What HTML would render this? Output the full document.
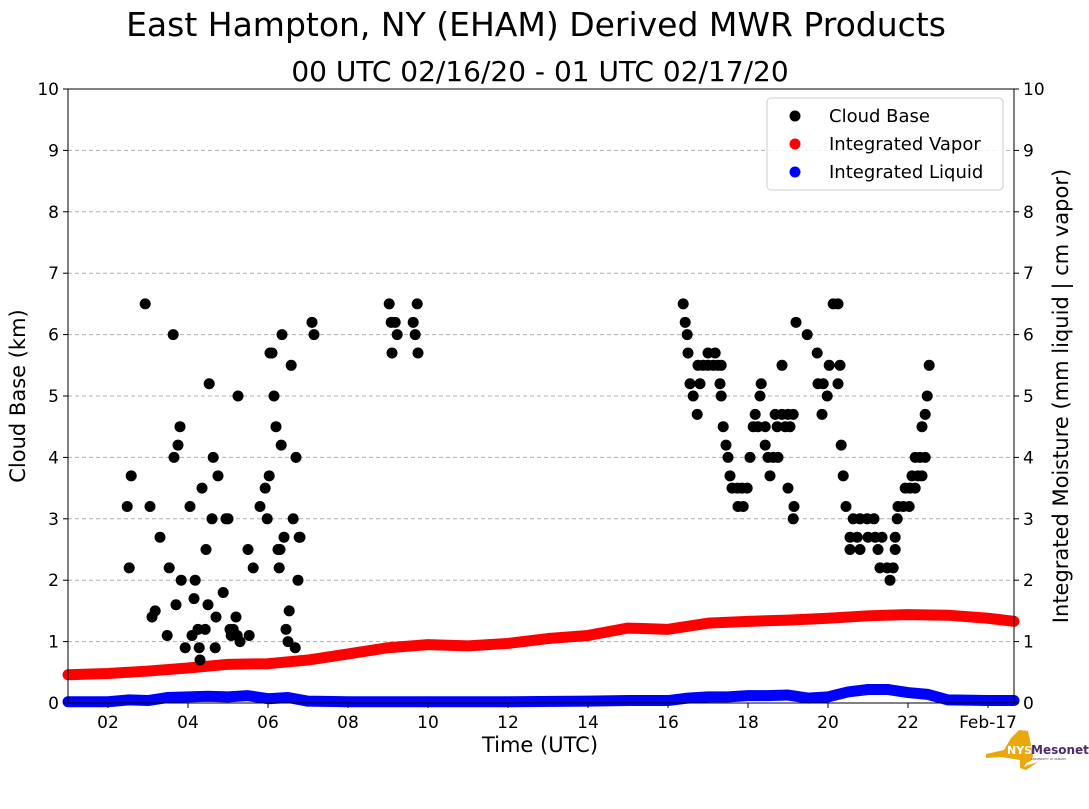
<!DOCTYPE html>
<html><head><meta charset="utf-8"><style>
body{margin:0;background:#fff;}
svg text{font-family:"DejaVu Sans","Liberation Sans",sans-serif;}
</style></head><body>
<svg id="chart" width="1089" height="804" xmlns="http://www.w3.org/2000/svg">
<text x="536" y="36" font-size="33" text-anchor="middle">East Hampton, NY (EHAM) Derived MWR Products</text>
<text x="540" y="81" font-size="28" text-anchor="middle">00 UTC 02/16/20 - 01 UTC 02/17/20</text>
<g id="grid"></g><g id="series"></g><g id="axes"></g>
<text x="540" y="752" font-size="21" text-anchor="middle">Time (UTC)</text>
<text transform="translate(25,396) rotate(-90)" font-size="21" text-anchor="middle">Cloud Base (km)</text>
<text transform="translate(1068,396) rotate(-90)" font-size="21" text-anchor="middle">Integrated Moisture (mm liquid | cm vapor)</text>
<g>
<rect x="767" y="98" width="236" height="92" rx="4" fill="#fff" fill-opacity="0.85" stroke="#ccc"/>
<circle cx="795" cy="116" r="5.5" fill="#000"/><text x="829" y="122" font-size="18">Cloud Base</text>
<circle cx="795" cy="144" r="5.5" fill="#f00"/><text x="829" y="150" font-size="18">Integrated Vapor</text>
<circle cx="795" cy="172" r="5.5" fill="#00f"/><text x="829" y="178" font-size="18">Integrated Liquid</text>
</g>
<g>
<path d="M986,754 L1004,750 L1011,738 L1019,730 L1028,731 L1031,745 L1033,756 L1031,761 L1026,763 L1024,767 L1028,765 L1038,762 L1026,770 L1020,768 L1020,760 L1002,757 L986,758 Z" fill="#eaa80b"/>
<text x="1007" y="754" font-size="11" font-weight="bold" fill="#fff">NYS</text>
<text x="1031" y="754" font-size="12" font-weight="bold" fill="#4b2a6e">Mesonet</text>
<text x="1031" y="760" font-size="3" fill="#4b2a6e">UNIVERSITY AT ALBANY</text>
</g>
</svg>
<script>
const cloudHours=[2.48,2.53,2.58,2.93,3.05,3.1,3.18,3.3,3.48,3.53,3.63,3.65,3.7,3.75,3.8,3.83,3.93,4.05,4.1,4.15,4.18,4.25,4.28,4.3,4.35,4.43,4.45,4.5,4.53,4.6,4.63,4.68,4.7,4.75,4.88,4.95,5.0,5.05,5.08,5.13,5.2,5.23,5.3,5.25,5.5,5.53,5.63,5.8,5.93,5.98,6.03,6.05,6.1,6.15,6.2,6.25,6.3,6.28,6.33,6.35,6.4,6.45,6.5,6.53,6.58,6.63,6.68,6.7,6.75,6.78,6.8,7.1,7.15,
9.03,9.08,9.1,9.18,9.23,9.63,9.68,9.73,9.75,
16.38,16.43,16.48,16.5,16.75,16.88,17.0,17.13,17.25,17.33,17.0,17.18,16.55,16.8,17.3,16.63,17.33,16.73,17.38,17.45,17.5,17.55,17.6,17.73,17.85,17.98,17.75,17.88,18.05,18.18,18.13,18.25,18.43,18.33,18.3,18.43,18.5,18.63,18.75,18.55,18.68,18.85,19.0,19.13,18.73,18.93,19.05,18.85,19.0,19.15,19.13,19.2,19.48,19.73,19.75,19.88,19.85,19.98,20.03,20.13,20.25,20.3,20.25,20.33,20.38,20.45,20.55,20.73,20.55,20.8,20.63,20.8,20.98,21.15,21.0,21.18,21.35,21.25,21.3,21.48,21.63,21.55,21.68,21.68,21.73,21.75,21.88,22.03,21.93,22.05,22.18,22.1,22.25,22.35,22.18,22.3,22.43,22.35,22.43,22.48,22.53];
const cloudKm=[3.2,2.2,3.7,6.5,3.2,1.4,1.5,2.7,1.1,2.2,6.0,4.0,1.6,4.2,4.5,2.0,0.9,3.2,1.1,1.7,2.0,1.2,0.9,0.7,3.5,1.2,2.5,1.6,5.2,3.0,4.0,0.9,1.4,3.7,1.8,3.0,3.0,1.2,1.1,1.2,1.4,1.1,1.0,5.0,2.5,1.1,2.2,3.2,3.5,3.0,3.7,5.7,5.7,5.0,4.5,2.5,2.5,2.2,4.2,6.0,2.7,1.2,1.0,1.5,5.5,3.0,0.9,4.0,2.0,2.7,2.7,6.2,6.0,
6.5,6.2,5.7,6.2,6.0,6.2,6.0,6.5,5.7,
6.5,6.2,6.0,5.7,5.5,5.5,5.5,5.5,5.5,5.5,5.7,5.7,5.2,5.2,5.2,5.0,5.0,4.7,4.5,4.2,4.0,3.7,3.5,3.5,3.5,3.5,3.2,3.2,4.0,4.7,4.5,4.5,4.5,5.2,5.0,4.2,4.0,4.0,4.0,3.7,4.7,4.7,4.7,4.7,4.5,4.5,4.5,5.5,3.5,3.2,3.0,6.2,6.0,5.7,5.2,5.2,4.7,5.0,5.5,6.5,6.5,5.5,5.2,4.2,3.7,3.2,2.7,2.7,2.5,2.5,3.0,3.0,3.0,3.0,2.7,2.7,2.7,2.5,2.2,2.2,2.2,2.0,2.7,2.5,3.0,3.2,3.2,3.2,3.5,3.5,3.5,3.7,3.7,3.7,4.0,4.0,4.0,4.5,4.7,5.0,5.5];
const vaporHours=[1,2,3,4,5,6,7,8,9,10,11,12,13,14,15,16,17,18,19,20,21,22,23,24,24.65];
const vaporValues=[0.46,0.48,0.52,0.57,0.63,0.64,0.70,0.80,0.90,0.95,0.93,0.97,1.05,1.10,1.22,1.20,1.30,1.33,1.35,1.38,1.42,1.44,1.43,1.38,1.33];
const liquidHours=[1,2,2.5,3,3.5,4,4.5,5,5.5,6,6.5,7,8,10,12,14,15,16,16.5,17,17.5,18,18.5,19,19.5,20,20.5,21,21.5,22,22.5,23,24,24.65];
const liquidValues=[0.02,0.02,0.05,0.04,0.09,0.10,0.11,0.10,0.12,0.07,0.09,0.03,0.02,0.02,0.02,0.03,0.04,0.04,0.08,0.10,0.10,0.12,0.12,0.13,0.08,0.10,0.18,0.22,0.22,0.17,0.14,0.05,0.04,0.04];
const xTicks=[2,4,6,8,10,12,14,16,18,20,22,24];
const xTickLabels=["02","04","06","08","10","12","14","16","18","20","22","Feb-17"];
const yTicks=[0,1,2,3,4,5,6,7,8,9,10];

const NS="http://www.w3.org/2000/svg";
const L=68,R=1014,T=89,B=703,H0=1,H1=24.65;
const xs=h=>L+(h-H0)/(H1-H0)*(R-L);
const ys=v=>B-v/10*(B-T);
function mk(tag,attrs,parent){const e=document.createElementNS(NS,tag);for(const k in attrs)e.setAttribute(k,attrs[k]);parent.appendChild(e);return e;}
const grid=document.getElementById('grid'),ser=document.getElementById('series'),ax=document.getElementById('axes');
yTicks.forEach(v=>{
  if(v>0&&v<10){const g=mk('line',{x1:L,x2:R,y1:ys(v),y2:ys(v),stroke:'#b0b0b0','stroke-dasharray':'4,3','stroke-width':1},grid);
  
  }
  mk('line',{x1:L-5,x2:L,y1:ys(v),y2:ys(v),stroke:'#000'},ax);
  mk('line',{x1:R,x2:R+5,y1:ys(v),y2:ys(v),stroke:'#000'},ax);
  const t1=mk('text',{x:L-9,y:ys(v)+6,'font-size':17,'text-anchor':'end'},ax);t1.textContent=v;
  
  
  const t2=mk('text',{x:R+9,y:ys(v)+6,'font-size':17},ax);t2.textContent=v;
  
  
});
xTicks.forEach((h,i)=>{
  mk('line',{x1:xs(h),x2:xs(h),y1:B,y2:B+5,stroke:'#000'},ax);
  const t=mk('text',{x:xs(h),y:B+25,'font-size':17,'text-anchor':'middle'},ax);t.textContent=xTickLabels[i];
  
  
});
const frame=mk('rect',{x:L,y:T,width:R-L,height:B-T,fill:'none',stroke:'#000','stroke-width':1},ax);


function line(hs,vs,color,name){
  const p=mk('polyline',{points:hs.map((h,i)=>xs(h)+','+ys(vs[i])).join(' '),fill:'none',stroke:color,'stroke-width':11,'stroke-linecap':'round','stroke-linejoin':'round'},ser);
  
  
}
line(vaporHours,vaporValues,'#f00','integrated-vapor-series');
line(liquidHours,liquidValues,'#00f','integrated-liquid-series');
cloudHours.forEach((h,i)=>{
  const c=mk('circle',{cx:xs(h),cy:ys(cloudKm[i]),r:5.5,fill:'#000'},ser);
  
  
});
</script>
</body></html>
